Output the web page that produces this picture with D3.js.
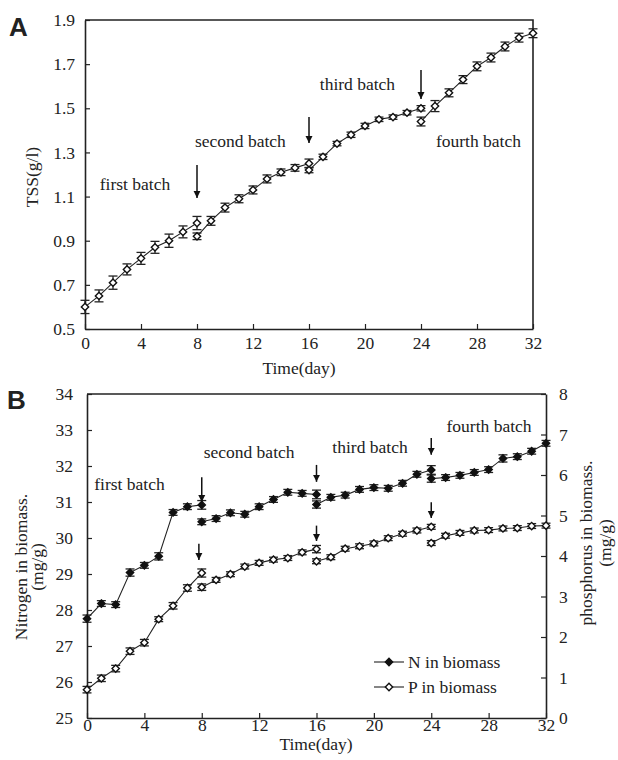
<!DOCTYPE html>
<html>
<head>
<meta charset="utf-8">
<script src="https://cdn.jsdelivr.net/npm/d3@7"></script>
<style>
  body { margin: 0; background: #fff; }
  svg text { font-family: "Liberation Serif", "DejaVu Serif", serif; fill: #222; }
</style>
</head>
<body>
<div id="chart"></div>
<script>
// days, one list per panel; the point at 8, 16 and 24 appears twice (end of a batch, start of the next)
var days = [0, 1, 2, 3, 4, 5, 6, 7, 8,
            8, 9, 10, 11, 12, 13, 14, 15, 16,
            16, 17, 18, 19, 20, 21, 22, 23, 24,
            24, 25, 26, 27, 28, 29, 30, 31, 32];

var tss = [0.60, 0.65, 0.71, 0.77, 0.82, 0.87, 0.90, 0.94, 0.98,
           0.92, 0.99, 1.05, 1.09, 1.13, 1.18, 1.21, 1.23, 1.25,
           1.22, 1.28, 1.34, 1.38, 1.42, 1.45, 1.46, 1.48, 1.50,
           1.44, 1.51, 1.57, 1.63, 1.69, 1.73, 1.78, 1.82, 1.84];
var tssErr = [0.030, 0.027, 0.030, 0.025, 0.027, 0.027, 0.030, 0.027, 0.030,
              0.015, 0.020, 0.020, 0.018, 0.018, 0.018, 0.015, 0.015, 0.020,
              0.012, 0.012, 0.010, 0.012, 0.012, 0.010, 0.010, 0.010, 0.012,
              0.020, 0.025, 0.018, 0.018, 0.020, 0.020, 0.020, 0.020, 0.020];

var nitrogen = [27.76, 28.18, 28.15, 29.04, 29.24, 29.49, 30.71, 30.87, 30.92,
                30.45, 30.54, 30.70, 30.66, 30.87, 31.07, 31.27, 31.24, 31.21,
                30.93, 31.13, 31.19, 31.35, 31.40, 31.38, 31.52, 31.77, 31.89,
                31.65, 31.68, 31.74, 31.82, 31.90, 32.21, 32.26, 32.41, 32.63];
var nitrogenErr = [0.10, 0.08, 0.08, 0.10, 0.08, 0.10, 0.08, 0.08, 0.12,
                   0.08, 0.08, 0.08, 0.08, 0.08, 0.08, 0.08, 0.08, 0.12,
                   0.10, 0.08, 0.08, 0.08, 0.08, 0.08, 0.08, 0.08, 0.12,
                   0.10, 0.08, 0.08, 0.08, 0.08, 0.10, 0.08, 0.08, 0.08];

var phosphorus = [0.70, 0.98, 1.22, 1.65, 1.86, 2.44, 2.77, 3.21, 3.58,
                  3.23, 3.41, 3.55, 3.74, 3.83, 3.91, 3.95, 4.09, 4.17,
                  3.87, 3.97, 4.18, 4.24, 4.31, 4.44, 4.55, 4.63, 4.72,
                  4.32, 4.50, 4.57, 4.63, 4.64, 4.68, 4.69, 4.74, 4.75];
var phosphorusErr = [0.08, 0.08, 0.08, 0.08, 0.08, 0.06, 0.08, 0.08, 0.10,
                     0.08, 0.06, 0.06, 0.06, 0.06, 0.06, 0.06, 0.06, 0.09,
                     0.06, 0.06, 0.06, 0.06, 0.06, 0.06, 0.06, 0.06, 0.06,
                     0.06, 0.06, 0.06, 0.06, 0.06, 0.06, 0.06, 0.06, 0.06];

var xTicks = [0, 4, 8, 12, 16, 20, 24, 28, 32];
var tssTicks = [0.5, 0.7, 0.9, 1.1, 1.3, 1.5, 1.7, 1.9];
var nTicks = [25, 26, 27, 28, 29, 30, 31, 32, 33, 34];
var pTicks = [0, 1, 2, 3, 4, 5, 6, 7, 8];

// batch labels, and arrows as [day, value at arrow top, value at arrow tip]
var labelsA = [
  {text: 'first batch', day: 3.57, value: 1.13},
  {text: 'second batch', day: 11.1, value: 1.325},
  {text: 'third batch', day: 19.46, value: 1.583},
  {text: 'fourth batch', day: 28.1, value: 1.325}
];
var arrowsA = [[8, 1.243, 1.094], [16, 1.461, 1.343], [24, 1.673, 1.542]];
var labelsB = [
  {text: 'first batch', day: 2.96, value: 31.33},
  {text: 'second batch', day: 11.3, value: 32.22},
  {text: 'third batch', day: 19.73, value: 32.36},
  {text: 'fourth batch', day: 28.03, value: 32.94}
];
var arrowsNB = [[8, 31.69, 31.0], [16, 32.03, 31.56], [24, 32.78, 32.31]];
var arrowsPB = [[7.8, 4.30, 3.90], [16, 4.75, 4.37], [24, 5.33, 4.94]];

var w = 618, h = 760;
var serif = '"Liberation Serif", "DejaVu Serif", serif';
var svg = d3.select('#chart').append('svg')
  .attr('width', w).attr('height', h);

svg.append('defs').append('marker')
  .attr('id', 'head')
  .attr('viewBox', '0 0 10 10')
  .attr('refX', 10).attr('refY', 5)
  .attr('markerWidth', 7).attr('markerHeight', 8)
  .attr('markerUnits', 'userSpaceOnUse')
  .attr('orient', 'auto')
  .append('path').attr('d', 'M0,0L10,5L0,10Z').attr('fill', '#111');

var diamond = d3.symbol().type(d3.symbolDiamond2).size(34);
var points = days.map(function(d, i) { return {day: d, batch: Math.floor(i / 9), i: i}; });

function styleAxis(g) {
  g.attr('font-family', null);
  g.selectAll('.domain').attr('stroke', '#222').attr('stroke-width', 1.6);
  g.selectAll('.tick line').attr('stroke', '#222').attr('stroke-width', 1.2);
  g.selectAll('.tick text').style('font-size', '17.5px').style('font-family', serif).attr('fill', '#222');
}

function drawAxes(g, x, y, yTicks, yFmt, padX, padY) {
  g.append('g').attr('transform', 'translate(0,' + y.range()[0] + ')')
    .call(d3.axisBottom(x).tickValues(xTicks).tickSizeInner(-5).tickSizeOuter(0).tickPadding(padX))
    .call(styleAxis);
  g.append('g').attr('transform', 'translate(' + x.range()[0] + ',0)')
    .call(d3.axisLeft(y).tickValues(yTicks).tickFormat(yFmt).tickSizeInner(-5).tickSizeOuter(0).tickPadding(padY))
    .call(styleAxis);
}

function drawSeries(g, x, y, vals, errs, filled) {
  var line = d3.line().x(function(d) { return x(d.day); }).y(function(d) { return y(vals[d.i]); });
  d3.group(points, function(d) { return d.batch; }).forEach(function(seg) {
    g.append('path').attr('d', line(seg)).attr('fill', 'none').attr('stroke', '#222').attr('stroke-width', 1.1);
  });
  var eb = g.append('g').attr('stroke', '#222').attr('stroke-width', 1.3);
  points.forEach(function(d) {
    var cx = x(d.day), top = y(vals[d.i] + errs[d.i]), bot = y(vals[d.i] - errs[d.i]);
    eb.append('line').attr('x1', cx).attr('x2', cx).attr('y1', top).attr('y2', bot);
    eb.append('line').attr('x1', cx - 4.5).attr('x2', cx + 4.5).attr('y1', top).attr('y2', top);
    eb.append('line').attr('x1', cx - 4.5).attr('x2', cx + 4.5).attr('y1', bot).attr('y2', bot);
  });
  g.selectAll(null).data(points).enter().append('path')
    .attr('d', diamond)
    .attr('transform', function(d) { return 'translate(' + x(d.day) + ',' + y(vals[d.i]) + ')'; })
    .attr('fill', filled ? '#111' : '#fff')
    .attr('stroke', '#111').attr('stroke-width', 1.4);
}

function drawNotes(g, x, y, labels, arrows) {
  labels.forEach(function(l) {
    g.append('text').attr('x', x(l.day)).attr('y', y(l.value))
      .attr('text-anchor', 'middle').style('font-size', '17.5px').text(l.text);
  });
  arrows.forEach(function(a) {
    g.append('line').attr('x1', x(a[0])).attr('x2', x(a[0]))
      .attr('y1', y(a[1])).attr('y2', y(a[2]))
      .attr('stroke', '#111').attr('stroke-width', 1.5).attr('marker-end', 'url(#head)');
  });
}

function title(g, x, y, rot, txt) {
  g.append('text')
    .attr('transform', 'translate(' + x + ',' + y + ')' + (rot ? ' rotate(-90)' : ''))
    .attr('text-anchor', 'middle').style('font-size', '17.5px').text(txt);
}

// ---- panel A
var xA = d3.scaleLinear().domain([0, 32]).range([85, 533]);
var yA = d3.scaleLinear().domain([0.5, 1.9]).range([329, 20]);
var gA = svg.append('g');
gA.append('path')
  .attr('d', 'M' + xA(0) + ',' + yA(1.9) + 'H' + xA(32) + 'V' + yA(0.5))
  .attr('fill', 'none').attr('stroke', '#222').attr('stroke-width', 1.6);
drawAxes(gA, xA, yA, tssTicks, d3.format('.1f'), 8, 10);
drawSeries(gA, xA, yA, tss, tssErr, false);
drawNotes(gA, xA, yA, labelsA, arrowsA);
title(gA, 299, 374, false, 'Time(day)');
title(gA, 38, 177, true, 'TSS(g/l)');
svg.append('text').attr('x', 9).attr('y', 36)
  .style('font-size', '26px').style('font-weight', 'bold')
  .style('font-family', '"Liberation Sans", Arial, sans-serif').text('A');

// ---- panel B
var xB = d3.scaleLinear().domain([0, 32]).range([87, 546]);
var yN = d3.scaleLinear().domain([25, 34]).range([718, 394]);
var yP = d3.scaleLinear().domain([0, 8]).range([718, 394]);
var gB = svg.append('g');
gB.append('line').attr('x1', xB(0)).attr('x2', xB(32)).attr('y1', yN(34)).attr('y2', yN(34))
  .attr('stroke', '#222').attr('stroke-width', 1.6);
drawAxes(gB, xB, yN, nTicks, d3.format('d'), 1, 14);
gB.append('g').attr('transform', 'translate(' + xB(32) + ',0)')
  .call(d3.axisRight(yP).tickValues(pTicks).tickSizeInner(-5).tickSizeOuter(0).tickPadding(13))
  .call(styleAxis);

drawSeries(gB, xB, yN, nitrogen, nitrogenErr, true);
drawSeries(gB, xB, yP, phosphorus, phosphorusErr, false);
drawNotes(gB, xB, yN, labelsB, arrowsNB);
drawNotes(gB, xB, yP, [], arrowsPB);

title(gB, 316, 750, false, 'Time(day)');
title(gB, 27, 567, true, 'Nitrogen in biomass.');
title(gB, 43, 567, true, '(mg/g)');
title(gB, 592, 543, true, 'phosphorus in biomass.');
title(gB, 611, 543, true, '(mg/g)');
svg.append('text').attr('x', 7).attr('y', 409)
  .style('font-size', '26px').style('font-weight', 'bold')
  .style('font-family', '"Liberation Sans", Arial, sans-serif').text('B');

// legend
var legendRows = [{name: 'N in biomass', filled: true, y: 662}, {name: 'P in biomass', filled: false, y: 687}];
var legend = gB.append('g').attr('transform', 'translate(374,0)');
legendRows.forEach(function(l) {
  legend.append('line').attr('x1', 0).attr('x2', 30).attr('y1', l.y).attr('y2', l.y)
    .attr('stroke', '#222').attr('stroke-width', 1.1);
  legend.append('path').attr('d', diamond).attr('transform', 'translate(15,' + l.y + ')')
    .attr('fill', l.filled ? '#111' : '#fff').attr('stroke', '#111').attr('stroke-width', 1.4);
  legend.append('text').attr('x', 34).attr('y', l.y + 6).style('font-size', '17.5px').text(l.name);
});
</script>
</body>
</html>
